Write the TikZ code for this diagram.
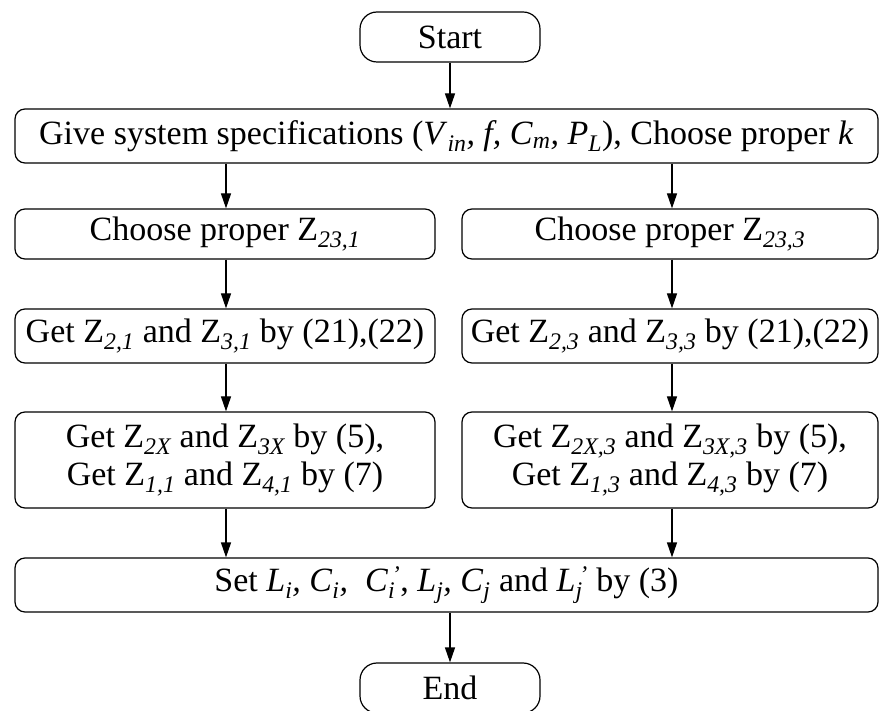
\documentclass[tikz,border=0pt]{standalone}
\usepackage{fontspec}
\setmainfont{Liberation Serif}
\usetikzlibrary{arrows.meta}
\newcommand\isub[1]{\textsubscript{\itshape #1}}
\newcommand\iv[1]{\textit{#1}}
% italic subscript with a prime stacked above it; takes the wider of the two
\newsavebox\primebox
\newsavebox\lowbox
\newcommand\isubp[1]{%
  \sbox\primebox{\textsuperscript{\itshape\,'}}%
  \sbox\lowbox{\textsubscript{\itshape #1}}%
  \rlap{\usebox\primebox}\usebox\lowbox
  \ifdim\wd\primebox>\wd\lowbox\kern\dimexpr\wd\primebox-\wd\lowbox\relax\fi}
\begin{document}
\begin{tikzpicture}[x=1pt,y=-1pt,
  font=\fontsize{34}{38}\selectfont,
  box/.style={draw,line width=1.2pt,rounded corners=10pt,inner sep=0pt,align=center},
  term/.style={draw,line width=1.2pt,rounded corners=17pt,inner sep=0pt,
    minimum width=180pt,minimum height=50pt},
  flow/.style={line width=1.2pt,-{Triangle[length=15pt,width=10pt]}}]
\useasboundingbox (0,0) rectangle (879,711);
\coordinate (colL) at (226,0);
\coordinate (colR) at (672,0);

\node[term] (start) at (450,37) {Start};
\node[box,minimum width=863pt,minimum height=54pt] (spec) at (446.5,136)
  {Give system specifications (\iv{V}\isub{in}\iv{, f, C}\isub{m}\iv{, P}\isub{L}), Choose proper \iv{k}};

\node[box,minimum width=420pt,minimum height=50pt] (c1) at (225,234) {Choose proper Z\isub{23,1}};
\node[box,minimum width=416pt,minimum height=50pt] (c3) at (670,234) {Choose proper Z\isub{23,3}};

\node[box,minimum width=420pt,minimum height=54pt] (g1) at (225,336) {Get Z\isub{2,1} and Z\isub{3,1} by (21),(22)};
\node[box,minimum width=416pt,minimum height=54pt] (g3) at (670,336) {Get Z\isub{2,3} and Z\isub{3,3} by (21),(22)};

\node[box,minimum width=420pt,minimum height=96pt] (z1) at (225,460)
  {Get Z\isub{2X} and Z\isub{3X} by (5),\\Get Z\isub{1,1} and Z\isub{4,1} by (7)};
\node[box,minimum width=416pt,minimum height=96pt] (z3) at (670,460)
  {Get Z\isub{2X,3} and Z\isub{3X,3} by (5),\\Get Z\isub{1,3} and Z\isub{4,3} by (7)};

\node[box,minimum width=863pt,minimum height=54pt] (set) at (446.5,585)
  {Set \iv{L}\isub{i}\iv{, C}\isub{i}\iv{,~ C}\isubp{i}, \iv{L}\isub{j}\iv{, C}\isub{j} and \iv{L}\isubp{j} by (3)};

\node[term] (end) at (450,688) {End};

\draw[flow] (start) -- (start |- spec.north);
\draw[flow] (spec.south -| colL) -- (c1.north -| colL);
\draw[flow] (spec.south -| colR) -- (c3.north -| colR);
\draw[flow] (c1.south -| colL) -- (g1.north -| colL);
\draw[flow] (c3.south -| colR) -- (g3.north -| colR);
\draw[flow] (g1.south -| colL) -- (z1.north -| colL);
\draw[flow] (g3.south -| colR) -- (z3.north -| colR);
\draw[flow] (z1.south -| colL) -- (set.north -| colL);
\draw[flow] (z3.south -| colR) -- (set.north -| colR);
\draw[flow] (set.south -| start) -- (end);
\end{tikzpicture}
\end{document}
